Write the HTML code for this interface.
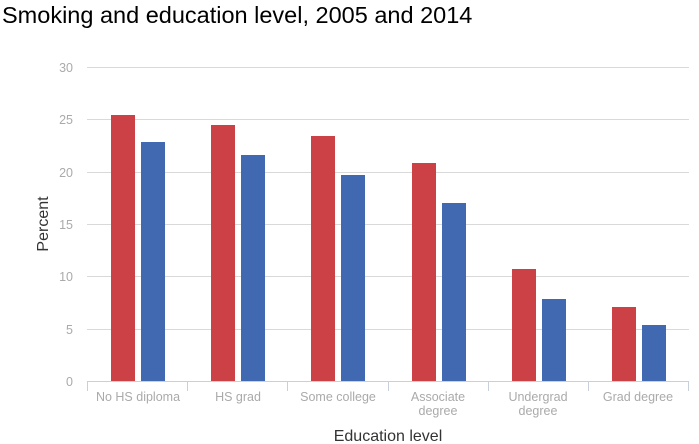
<!DOCTYPE html><html><head><style>body{margin:0;background:#fff}svg{display:block}</style></head><body>
<svg width="699" height="444" xmlns="http://www.w3.org/2000/svg" font-family="Liberation Sans, Arial, sans-serif">
<text x="2" y="23" font-size="23.5" fill="#000">Smoking and education level, 2005 and 2014</text>
<g stroke="#d9d9d9" stroke-width="1">
<line x1="87" x2="689" y1="67.5" y2="67.5"/><line x1="87" x2="689" y1="119.5" y2="119.5"/><line x1="87" x2="689" y1="172.5" y2="172.5"/><line x1="87" x2="689" y1="224.5" y2="224.5"/><line x1="87" x2="689" y1="276.5" y2="276.5"/><line x1="87" x2="689" y1="329.5" y2="329.5"/>
</g>
<g font-size="12.5" fill="#aaa" text-anchor="end">
<text x="73" y="72">30</text><text x="73" y="124">25</text><text x="73" y="177">20</text><text x="73" y="229">15</text><text x="73" y="281">10</text><text x="73" y="334">5</text><text x="73" y="386">0</text>
</g>
<g fill="#cc4146">
<rect x="111" y="115" width="24" height="266"/><rect x="211" y="125" width="24" height="256"/><rect x="311" y="136" width="24" height="245"/><rect x="412" y="163" width="24" height="218"/><rect x="512" y="269" width="24" height="112"/><rect x="612" y="307" width="24" height="74"/>
</g>
<g fill="#4169b2">
<rect x="141" y="142" width="24" height="239"/><rect x="241" y="155" width="24" height="226"/><rect x="341" y="175" width="24" height="206"/><rect x="442" y="203" width="24" height="178"/><rect x="542" y="299" width="24" height="82"/><rect x="642" y="325" width="24" height="56"/>
</g>
<g stroke="#c8d0dc" stroke-width="1">
<line x1="87" x2="689" y1="381.5" y2="381.5"/>
<line x1="87.5" x2="87.5" y1="381" y2="391"/><line x1="187.5" x2="187.5" y1="381" y2="391"/><line x1="287.5" x2="287.5" y1="381" y2="391"/><line x1="388.5" x2="388.5" y1="381" y2="391"/><line x1="488.5" x2="488.5" y1="381" y2="391"/><line x1="588.5" x2="588.5" y1="381" y2="391"/><line x1="688.5" x2="688.5" y1="381" y2="391"/>
</g>
<g font-size="12.5" fill="#aaa" text-anchor="middle">
<text x="138" y="401">No HS diploma</text><text x="238" y="401">HS grad</text><text x="338" y="401">Some college</text>
<text x="438" y="401">Associate</text><text x="438" y="415">degree</text>
<text x="538" y="401">Undergrad</text><text x="538" y="415">degree</text>
<text x="638" y="401">Grad degree</text>
</g>
<text x="388" y="441" font-size="16" fill="#333" text-anchor="middle">Education level</text>
<text transform="translate(48,224) rotate(-90)" font-size="16" fill="#333" text-anchor="middle">Percent</text>
</svg></body></html>
